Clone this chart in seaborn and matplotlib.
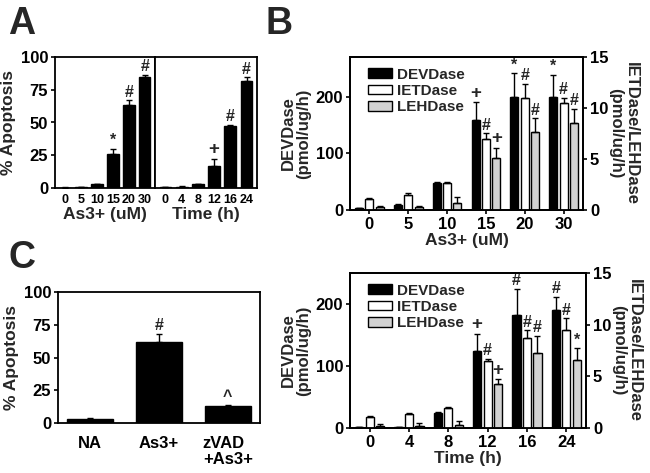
import matplotlib
matplotlib.use("Agg")
import matplotlib.pyplot as plt
from matplotlib.patches import Patch
from matplotlib.container import BarContainer
import seaborn as sns
import pandas as pd
import numpy as np

sns.set_style("ticks")
plt.rcParams['font.family'] = ['Liberation Sans', 'DejaVu Sans']
plt.rcParams['font.weight'] = 'bold'
plt.rcParams['axes.labelweight'] = 'bold'
plt.rcParams['axes.linewidth'] = 1.3
plt.rcParams['xtick.major.width'] = 1.2
plt.rcParams['ytick.major.width'] = 1.2
plt.rcParams['xtick.color'] = 'black'
plt.rcParams['ytick.color'] = 'black'
plt.rcParams['axes.edgecolor'] = 'black'

# ---------------- data ----------------
# Panel A
conc_labels = ["0", "5", "10", "15", "20", "30"]
conc_apop = [0.3, 0.8, 3, 26, 63, 85]
conc_apop_err = [0.1, 0.2, 0.4, 4, 4, 1.5]
conc_marks = ["", "", "", "*", "#", "#"]
time_labels = ["0", "4", "8", "12", "16", "24"]
time_apop = [0.5, 1, 3, 17, 47, 82]
time_apop_err = [0.2, 0.3, 0.4, 5, 1, 2.5]
time_marks = ["", "", "", "+", "#", "#"]

# Panel C
treat_labels = ["NA", "As3+", "zVAD\n+As3+"]
treat_apop = [3, 62, 13]
treat_err = [1, 6, 1]
treat_marks = ["", "#", "^"]

# Panel B (concentration)
enzymes = ["DEVDase", "IETDase", "LEHDase"]
b_dev = [3, 9, 48, 158, 200, 200]
b_dev_err = [1, 1.5, 2, 32, 41, 39]
b_iet = [1.1, 1.5, 2.65, 7.0, 11.0, 10.5]
b_iet_err = [0.1, 0.15, 0.1, 0.5, 1.4, 0.5]
b_leh = [0.25, 0.25, 0.65, 5.1, 7.6, 8.5]
b_leh_err = [0.1, 0.15, 0.6, 1.0, 1.4, 1.4]
b_marks_dev = ["", "", "", "+", "*", "*"]
b_marks_iet = ["", "", "", "#", "#", "#"]
b_marks_leh = ["", "", "", "+", "#", "#"]

# Panel D (time)
d_dev = [1, 1.5, 25, 125, 182, 191]
d_dev_err = [0.5, 0.5, 1.5, 27, 42, 20]
d_iet = [1.1, 1.4, 1.95, 6.5, 8.7, 9.5]
d_iet_err = [0.1, 0.1, 0.1, 0.2, 0.75, 1.1]
d_leh = [0.2, 0.2, 0.3, 4.3, 7.25, 6.6]
d_leh_err = [0.15, 0.3, 0.35, 0.4, 1.65, 1.1]
d_marks_dev = ["", "", "", "+", "#", "#"]
d_marks_iet = ["", "", "", "#", "#", "#"]
d_marks_leh = ["", "", "", "+", "#", "*"]

palette = {"DEVDase": "black", "IETDase": "white", "LEHDase": "#d2d2d2"}

TICK_FS = 12
LABEL_FS = 12.5

fig = plt.figure(figsize=(6.5, 4.73), dpi=100)


def bar_centers(ax, color):
    """x centres of seaborn-drawn bars with the given face colour, left to right."""
    target = matplotlib.colors.to_rgba(color)
    xs = []
    for c in ax.containers:
        if isinstance(c, BarContainer):
            for p in c.patches:
                if np.allclose(p.get_facecolor(), target, atol=0.02):
                    xs.append(p.get_x() + p.get_width() / 2)
    return sorted(xs)


def add_err_marks(ax, xs, vals, errs, marks, fs=11.5, capsize=2):
    ax.errorbar(xs, vals, yerr=[np.zeros(len(errs)), errs], fmt='none',
                ecolor='black', elinewidth=1, capsize=capsize, capthick=1, zorder=5)
    for x, v, e, m in zip(xs, vals, errs, marks):
        if m:
            size = fs + 2 if m == "+" else fs
            ax.annotate(m, (x, v + e), xytext=(0, 0.5), textcoords='offset points',
                        ha='center', va='bottom', fontsize=size, fontweight='bold')


def apop_panel(ax, labels, vals, errs, marks, width, tick_fs):
    df = pd.DataFrame({"x": labels, "v": vals})
    sns.barplot(df, x="x", y="v", order=labels, color="black", edgecolor="black",
                width=width, errorbar=None, ax=ax, saturation=1)
    add_err_marks(ax, bar_centers(ax, "black"), vals, errs, marks)
    ax.set_ylim(0, 100)
    ax.set_yticks([0, 25, 50, 75, 100])
    ax.tick_params(axis='x', length=0, labelsize=tick_fs, pad=4)
    ax.tick_params(axis='y', direction='out', length=3, labelsize=TICK_FS, pad=2)
    for s in ax.spines.values():
        s.set_visible(True)
        s.set_color('black')


# ---------------- Panel A ----------------
axA1 = fig.add_axes([55 / 650, 1 - 188 / 473, 100 / 650, 131 / 473])
axA2 = fig.add_axes([155 / 650, 1 - 188 / 473, 102 / 650, 131 / 473])
apop_panel(axA1, conc_labels, conc_apop, conc_apop_err, conc_marks, 0.72, 9)
apop_panel(axA2, time_labels, time_apop, time_apop_err, time_marks, 0.72, 9)
axA1.set_ylabel("% Apoptosis", fontsize=LABEL_FS, labelpad=3)
axA1.set_xlabel("As3+ (uM)", fontsize=LABEL_FS, labelpad=1)
axA2.set_ylabel("")
axA2.set_xlabel("Time (h)", fontsize=LABEL_FS, labelpad=1)
axA2.set_yticklabels([])
axA2.tick_params(axis='y', length=0)

# ---------------- Panel C ----------------
axC = fig.add_axes([58 / 650, 1 - 423 / 473, 202 / 650, 131 / 473])
apop_panel(axC, treat_labels, treat_apop, treat_err, treat_marks, 0.67, TICK_FS)
axC.set_ylabel("% Apoptosis", fontsize=LABEL_FS, labelpad=3)
axC.set_xlabel("")
axC.tick_params(axis='x', pad=9)
plt.setp(axC.get_xticklabels(), multialignment='left', linespacing=1.1)


# ---------------- Panels B and D ----------------
def enzyme_panel(rect, labels, dev, dev_err, iet, iet_err, leh, leh_err,
                 m_dev, m_iet, m_leh, xlabel, left_max):
    ax = fig.add_axes(rect)
    ax2 = ax.twinx()
    n = len(labels)
    df_left = pd.DataFrame({"x": labels, "enzyme": ["DEVDase"] * n, "v": dev})
    df_right = pd.DataFrame({"x": labels * 2,
                             "enzyme": ["IETDase"] * n + ["LEHDase"] * n,
                             "v": list(iet) + list(leh)})
    kw = dict(x="x", y="v", hue="enzyme", hue_order=enzymes, order=labels,
              palette=palette, edgecolor="black", linewidth=1, width=0.8, gap=0.22,
              dodge=True, errorbar=None, legend=False, saturation=1)
    sns.barplot(df_left, ax=ax, **kw)
    sns.barplot(df_right, ax=ax2, **kw)
    add_err_marks(ax, bar_centers(ax, palette["DEVDase"]), dev, dev_err, m_dev)
    add_err_marks(ax2, bar_centers(ax2, palette["IETDase"]), iet, iet_err, m_iet)
    add_err_marks(ax2, bar_centers(ax2, palette["LEHDase"]), leh, leh_err, m_leh)
    ax.set_ylim(0, left_max)
    ax.set_yticks([0, 100, 200])
    ax2.set_ylim(0, 15)
    ax2.set_yticks([0, 5, 10, 15])
    ax.set_xlim(-0.5, n - 0.5)
    ax.set_ylabel("DEVDase\n(pmol/ug/h)", fontsize=LABEL_FS - 0.5, linespacing=1.05,
                  labelpad=3)
    ax2.set_ylabel("IETDase/LEHDase\n(pmol/ug/h)", fontsize=LABEL_FS - 0.5,
                   rotation=270, labelpad=22, linespacing=1.05)
    ax.set_xlabel(xlabel, fontsize=LABEL_FS, labelpad=1)
    ax2.set_xlabel("")
    ax.tick_params(axis='x', direction='out', length=3, labelsize=TICK_FS, pad=2)
    ax.tick_params(axis='y', direction='out', length=3, labelsize=TICK_FS, pad=2)
    ax2.tick_params(axis='y', direction='out', length=3, labelsize=TICK_FS, pad=2)
    for a in (ax, ax2):
        for s in a.spines.values():
            s.set_visible(True)
            s.set_color('black')
    handles = [Patch(facecolor=palette[e], edgecolor='black', linewidth=1, label=e)
               for e in enzymes]
    leg = ax2.legend(handles=handles, loc='upper left', frameon=False,
                     fontsize=11,
                     handlelength=1.6, handleheight=0.6, handletextpad=0.3,
                     labelspacing=0.15, borderaxespad=0.3, bbox_to_anchor=(0.03, 1.0))
    for t in leg.get_texts():
        t.set_fontweight('bold')
    return ax, ax2


enzyme_panel([350 / 650, 1 - 210 / 473, 233 / 650, 153 / 473], conc_labels,
             b_dev, b_dev_err, b_iet, b_iet_err, b_leh, b_leh_err,
             b_marks_dev, b_marks_iet, b_marks_leh, "As3+ (uM)", 270)
enzyme_panel([350 / 650, 1 - 428 / 473, 236 / 650, 155 / 473], time_labels,
             d_dev, d_dev_err, d_iet, d_iet_err, d_leh, d_leh_err,
             d_marks_dev, d_marks_iet, d_marks_leh, "Time (h)", 250)

# ---------------- panel letters ----------------
for letter, x, y in [("A", 8, 34), ("B", 266, 34), ("C", 8, 268)]:
    fig.text(x / 650, 1 - y / 473, letter, fontsize=27, fontweight='bold', va='baseline')

fig.savefig("out.png", dpi=100)
